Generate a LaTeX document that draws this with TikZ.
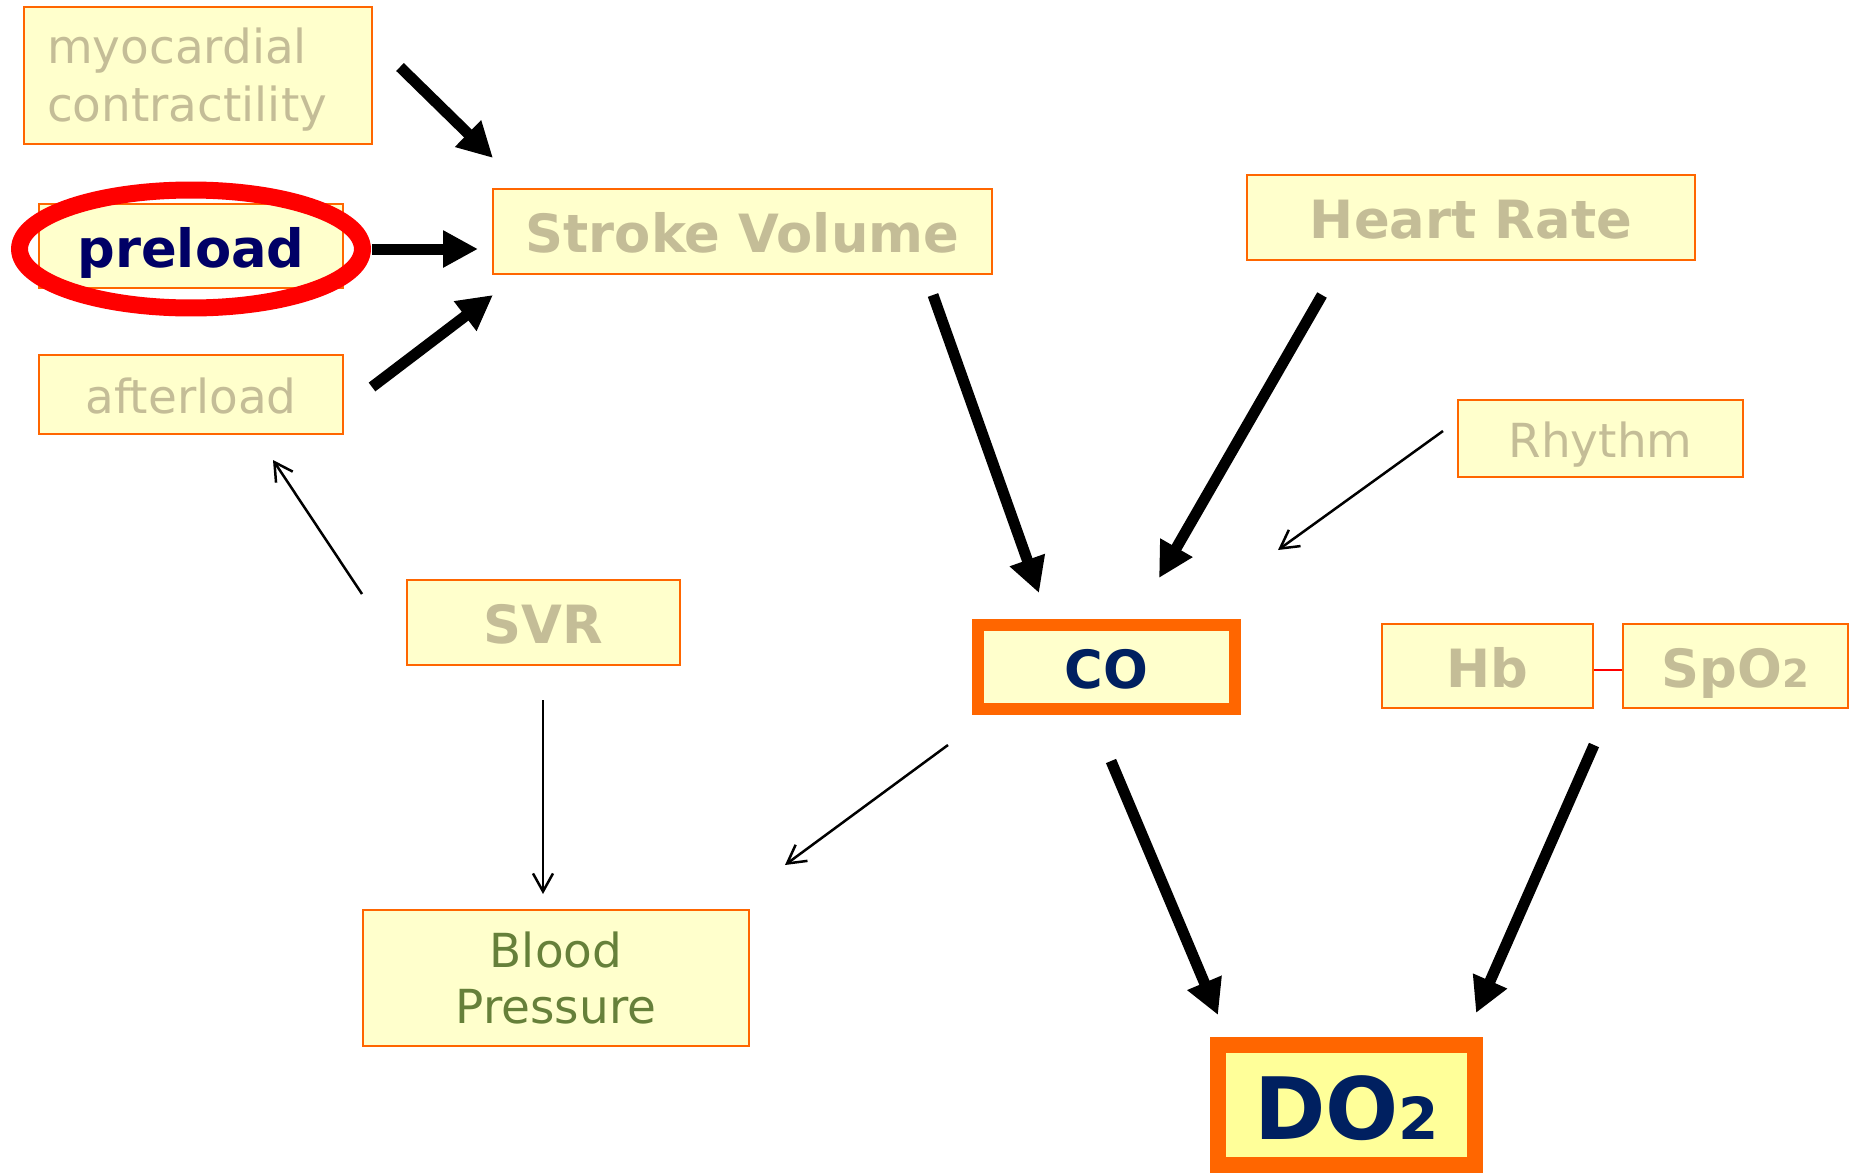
\documentclass[tikz,border=0pt]{standalone}
\usepackage{fontspec}
\setmainfont{DejaVu Sans}
\usetikzlibrary{arrows.meta}
\definecolor{boxfill}{HTML}{FFFFCC}
\definecolor{boxline}{HTML}{FF6600}
\definecolor{paletext}{HTML}{C4BD97}
\definecolor{navytext}{HTML}{000066}
\definecolor{deepblue}{HTML}{002060}
\definecolor{bptext}{HTML}{66803A}
\definecolor{dofill}{HTML}{FFFF99}
\tikzset{
  factor/.style={draw=boxline, fill=boxfill, line width=0.05cm, inner sep=0pt},
  softbox/.style={factor, text=paletext, font=\fontsize{26.7}{33}\selectfont, text height=27pt, text depth=5.6pt},
  boldbox/.style={factor, text=paletext, font=\bfseries\fontsize{30}{36}\selectfont, text height=30.2pt, text depth=6.3pt},
  keybox/.style={boldbox, text=deepblue, line width=0.24cm},
  ring/.style={draw=red, line width=0.34cm},
  bigarrow/.style={line width=0.22cm, -{Triangle[length=0.7cm,width=0.7cm]}},
  thinarrow/.style={line width=0.05cm, -{Straight Barb[length=0.36cm,width=0.4cm]}},
  hblink/.style={draw=red, line width=0.05cm},
}
\begin{document}
\begin{tikzpicture}[x=0.02cm, y=-0.02cm]
\useasboundingbox (0,0) rectangle (1851,1173);
% left column
\node[factor, text=paletext, font=\fontsize{26.7}{33}\selectfont, align=left, text width=6.04cm, inner xsep=0.46cm, minimum height=2.74cm] (myo) at (198,75.5) {\rule{0pt}{0.88cm}myocardial\\contractility};
\node[boldbox, text=navytext, minimum width=6.08cm, minimum height=1.68cm] (preload) at (191,246) {preload};
\node[softbox, minimum width=6.08cm, minimum height=1.58cm] (afterload) at (191,394.5) {afterload};
\draw[ring] ([yshift=-0.06cm]preload.center) ellipse [x radius=3.43cm, y radius=1.18cm];
% top row
\node[boldbox, minimum width=9.98cm, minimum height=1.7cm] (sv) at (742.5,231.5) {Stroke Volume};
\node[boldbox, minimum width=8.96cm, minimum height=1.7cm] (hr) at (1471,217.5) {Heart Rate};
\node[softbox, minimum width=5.7cm, minimum height=1.54cm] (rhythm) at (1600.5,438.5) {Rhythm};
% middle row
\node[boldbox, minimum width=5.46cm, minimum height=1.7cm] (svr) at (543.5,622.5) {SVR};
\node[keybox, minimum width=5.14cm, minimum height=1.68cm] (co) at (1106.5,667) {CO};
\node[boldbox, minimum width=4.22cm, minimum height=1.68cm] (hb) at (1487.5,666) {Hb};
\node[boldbox, minimum width=4.5cm, minimum height=1.68cm] (spo2) at (1735.5,666) {SpO{\fontsize{22}{24}\selectfont 2}};
% bottom row
\node[factor, text=bptext, font=\fontsize{26.7}{32}\selectfont, align=center, minimum width=7.72cm, minimum height=2.72cm] (bp) at (556,978) {Blood\\Pressure};
\node[keybox, fill=dofill, line width=0.32cm, font=\bfseries\fontsize{49}{54}\selectfont, text height=49.2pt, text depth=10.3pt, minimum width=5.14cm, minimum height=2.4cm] (dotwo) at (1346.5,1105) {DO{\fontsize{33}{36}\selectfont 2}};
\draw[hblink] ([yshift=-0.08cm]hb.east) -- ([yshift=-0.08cm]spo2.west);
% arrow ends
\coordinate (myo-out) at (400,67);
\coordinate (sv-in1) at (493,158);
\coordinate (preload-out) at (372,249);
\coordinate (sv-in2) at (478,249);
\coordinate (afterload-out) at (372,387);
\coordinate (sv-in3) at (493,295);
\coordinate (sv-out) at (933,295);
\coordinate (co-in1) at (1039,593);
\coordinate (hr-out) at (1322,295);
\coordinate (co-in2) at (1159,578);
\coordinate (rhythm-out) at (1443,431);
\coordinate (co-in3) at (1278,550);
\coordinate (svr-out1) at (362,594);
\coordinate (afterload-in) at (273,460);
\coordinate (svr-out2) at (543,700);
\coordinate (bp-in1) at (543,894);
\coordinate (co-out1) at (948,745);
\coordinate (bp-in2) at (785,865);
\coordinate (co-out2) at (1111,761);
\coordinate (dotwo-in1) at (1218,1015);
\coordinate (spo2-out) at (1594,745);
\coordinate (dotwo-in2) at (1476,1013);
% arrows
\draw[bigarrow] (myo-out) -- (sv-in1);
\draw[bigarrow] (preload-out) -- (sv-in2);
\draw[bigarrow] (afterload-out) -- (sv-in3);
\draw[bigarrow] (sv-out) -- (co-in1);
\draw[bigarrow] (hr-out) -- (co-in2);
\draw[thinarrow] (rhythm-out) -- (co-in3);
\draw[thinarrow] (svr-out1) -- (afterload-in);
\draw[thinarrow] (svr-out2) -- (bp-in1);
\draw[thinarrow] (co-out1) -- (bp-in2);
\draw[bigarrow] (co-out2) -- (dotwo-in1);
\draw[bigarrow] (spo2-out) -- (dotwo-in2);
\end{tikzpicture}
\end{document}
